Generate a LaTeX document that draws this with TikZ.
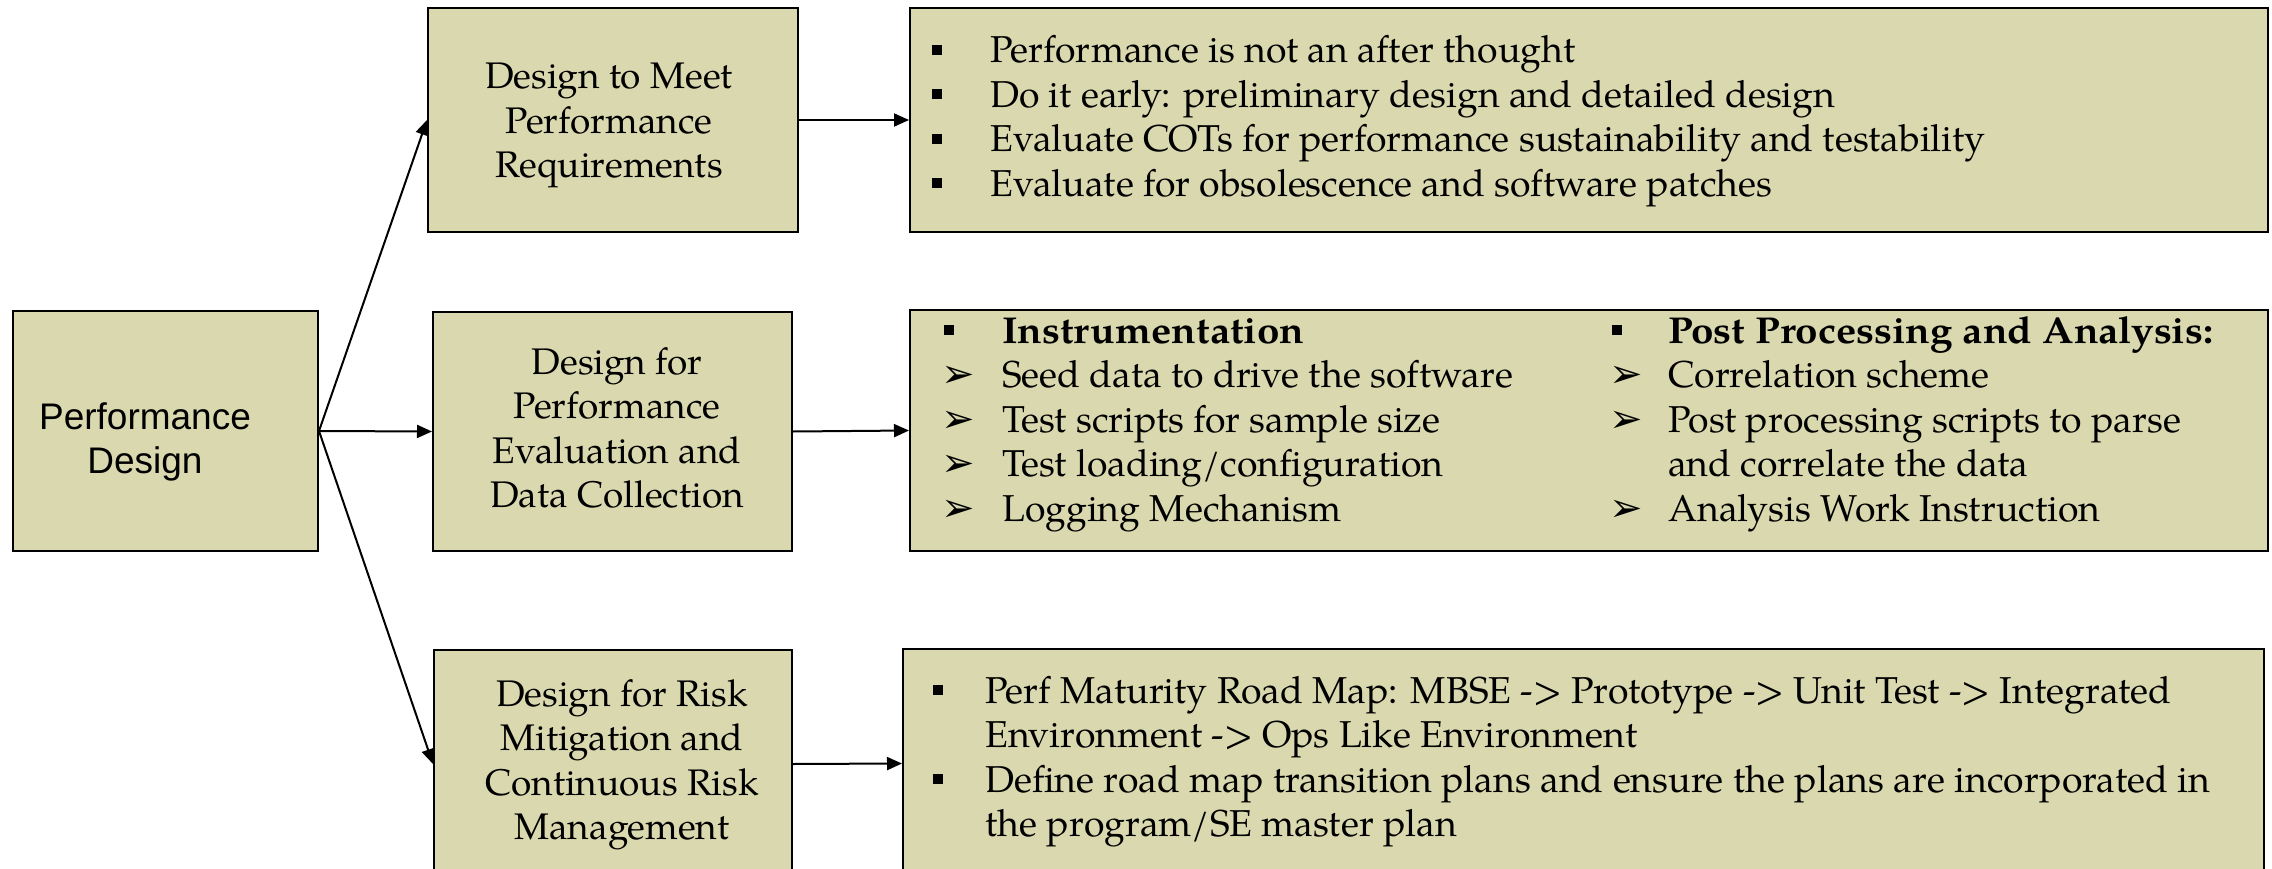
\documentclass[tikz,border=0pt]{standalone}
\usepackage{fontspec}
\setmainfont{TeX Gyre Pagella}
\newfontfamily\pdfont{Liberation Sans}
\newfontfamily\symfont{DejaVu Sans}
\usetikzlibrary{arrows.meta}
\definecolor{boxfill}{RGB}{217,216,174}
\newcommand{\sqbul}{\raisebox{8pt}{\rule{10pt}{10pt}}}
\newcommand{\arbul}{\hspace*{-3pt}{\symfont\fontsize{40}{40}\selectfont ➢}}
\newcommand{\bhead}[1]{\scalebox{1.08}[1]{\textbf{#1}}}
\begin{document}
\begin{tikzpicture}[x=1pt,y=-1pt,
  box/.style={draw=black, line width=2pt, fill=boxfill, inner sep=0pt, anchor=north west},
  txt/.style={inner sep=0pt, font=\fontsize{37.4}{44.5}\selectfont},
  conn/.style={line width=2pt, -{Triangle[length=15pt,width=13pt]}}]
\useasboundingbox (0,0) rectangle (2272,869);
% boxes
\node[box, minimum width=305, minimum height=240] (pd) at (12,310) {};
\node[box, minimum width=370, minimum height=224] (dm) at (427,7) {};
\node[box, minimum width=359, minimum height=239] (de) at (432,311) {};
\node[box, minimum width=358, minimum height=228] (rk) at (433,649) {};
\node[box, minimum width=1358, minimum height=224] (r1) at (909,7) {};
\node[box, minimum width=1358, minimum height=241] (r2) at (909,309) {};
\node[box, minimum width=1361, minimum height=229] (r3) at (902,648) {};
% texts
\node[txt, font=\pdfont\fontsize{37}{44}\selectfont, anchor=base] (pdt) at (145,429)
  {\begin{tabular}[t]{@{}c@{}}Performance\\Design\end{tabular}};
\node[txt, font=\fontsize{37}{44.5}\selectfont, anchor=base] (dmt) at (609,89)
  {\begin{tabular}[t]{@{}c@{}}Design to Meet\\Performance\\Requirements\end{tabular}};
\node[txt, font=\fontsize{37}{44.5}\selectfont, anchor=base] (det) at (617,374)
  {\begin{tabular}[t]{@{}c@{}}Design for\\Performance\\Evaluation and\\Data Collection\end{tabular}};
\node[txt, font=\fontsize{37}{44.5}\selectfont, anchor=base] (rkt) at (622,706)
  {\begin{tabular}[t]{@{}c@{}}Design for Risk\\Mitigation and\\Continuous Risk\\Management\end{tabular}};
\node[txt, anchor=base west] (r1t) at (932,63)
  {\begin{tabular}[t]{@{}l@{}}
  \makebox[58pt][l]{\sqbul}Performance is not an after thought\\
  \makebox[58pt][l]{\sqbul}Do it early: preliminary design and detailed design\\
  \makebox[58pt][l]{\sqbul}Evaluate COTs for performance sustainability and testability\\
  \makebox[58pt][l]{\sqbul}Evaluate for obsolescence and software patches
  \end{tabular}};
\node[txt, anchor=base west] (r2a) at (944,343)
  {\begin{tabular}[t]{@{}l@{}}
  \makebox[58pt][l]{\sqbul}\bhead{Instrumentation}\\
  \makebox[58pt][l]{\arbul}Seed data to drive the software\\
  \makebox[58pt][l]{\arbul}Test scripts for sample size\\
  \makebox[58pt][l]{\arbul}Test loading/configuration\\
  \makebox[58pt][l]{\arbul}Logging Mechanism
  \end{tabular}};
\node[txt, anchor=base west] (r2b) at (1612,343)
  {\begin{tabular}[t]{@{}l@{}}
  \makebox[56pt][l]{\sqbul}\bhead{Post Processing and Analysis:}\\
  \makebox[56pt][l]{\arbul}Correlation scheme\\
  \makebox[56pt][l]{\arbul}Post processing scripts to parse\\
  \hspace*{56pt}and correlate the data\\
  \makebox[56pt][l]{\arbul}Analysis Work Instruction
  \end{tabular}};
\node[txt, anchor=base west] (r3t) at (933,703)
  {\begin{tabular}[t]{@{}l@{}}
  \makebox[52pt][l]{\sqbul}Perf Maturity Road Map: MBSE -> Prototype -> Unit Test -> Integrated\\
  \hspace*{52pt}Environment -> Ops Like Environment\\
  \makebox[52pt][l]{\sqbul}Define road map transition plans and ensure the plans are incorporated in\\
  \hspace*{52pt}the program/SE master plan
  \end{tabular}};
% connectors
\draw[conn] (pd.east) -- (dm.west);
\draw[conn] (pd.east) -- (de.west);
\draw[conn] (pd.east) -- (rk.west);
\draw[conn] (dm.east) -- (r1.west);
\draw[conn] (de.east) -- (r2.west);
\draw[conn] (rk.east) -- (r3.west);
\end{tikzpicture}
\end{document}
